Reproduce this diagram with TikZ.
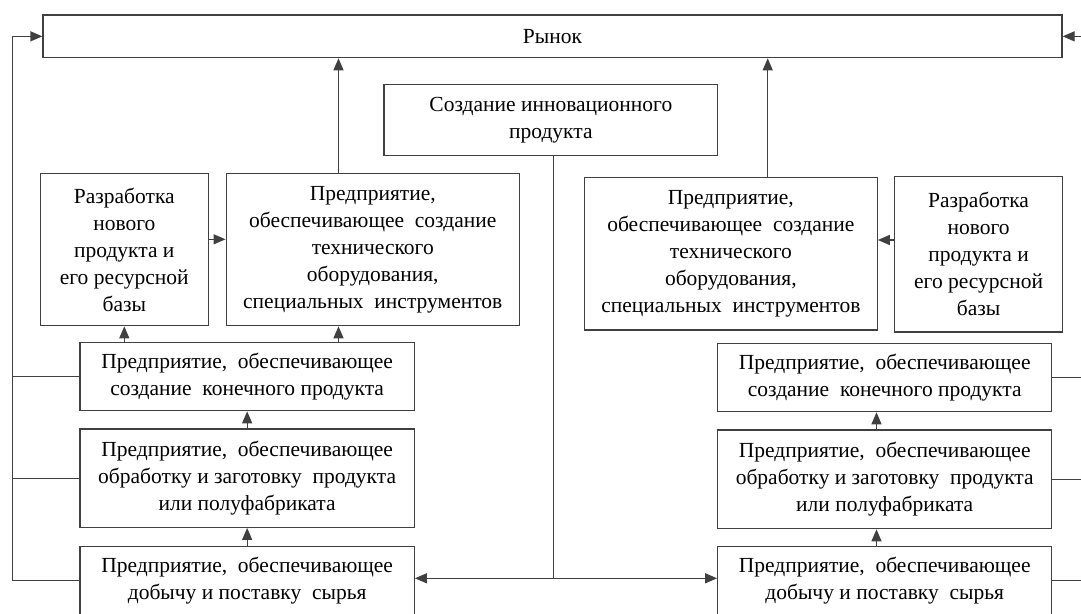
\documentclass[tikz,border=0pt]{standalone}
\usepackage{fontspec}
\setmainfont{Liberation Serif}
\usetikzlibrary{arrows.meta}
\begin{document}
\begin{tikzpicture}[x=1pt,y=-1pt,
  box/.style={draw=black!75, line width=1.25pt, fill=white, inner sep=0pt, align=center,
    font=\fontsize{21.5}{27}\selectfont, text=black},
  arr/.style={draw=black!75, line width=1.25pt, -{Triangle[length=12pt,width=10pt]}},
  ln/.style={draw=black!75, line width=1.25pt}]
\useasboundingbox (0,0) rectangle (1081,613);
% nodes
\node[box, minimum width=1019pt, minimum height=42.7pt] (rynok) at (552.5,36.35) {Рынок};
\node[box, minimum width=333.7pt, minimum height=71pt] (cr) at (550.85,119.8) {Создание инновационного\\продукта};
\node[box, minimum width=168pt, minimum height=152.4pt] (lraz) at (124.3,249.5) {Разработка\\нового\\продукта и\\его ресурсной\\базы};
\node[box, minimum width=293.1pt, minimum height=152.4pt] (ltech) at (372.75,249.5) {Предприятие,\\обеспечивающее\ \ создание\\технического\\оборудования,\\специальных\ \ инструментов};
\node[box, minimum width=292.7pt, minimum height=152.3pt] (rtech) at (730.85,253.85) {Предприятие,\\обеспечивающее\ \ создание\\технического\\оборудования,\\специальных\ \ инструментов};
\node[box, minimum width=168.4pt, minimum height=155.3pt] (rraz) at (978.6,254.35) {Разработка\\нового\\продукта и\\его ресурсной\\базы};
\node[box, minimum width=334.3pt, minimum height=68pt] (lfin) at (247.15,376.7) {Предприятие,\ \ обеспечивающее\\создание\ \ конечного продукта};
\node[box, minimum width=334.3pt, minimum height=98.3pt] (lproc) at (247.15,478.15) {Предприятие,\ \ обеспечивающее\\обработку и заготовку\ \ продукта\\или полуфабриката};
\node[box, minimum width=334.3pt, minimum height=68pt] (lsup) at (247.15,580.7) {Предприятие,\ \ обеспечивающее\\добычу и поставку\ \ сырья};
\node[box, minimum width=334pt, minimum height=68.4pt] (rfin) at (884.7,377.5) {Предприятие,\ \ обеспечивающее\\создание\ \ конечного продукта};
\node[box, minimum width=334pt, minimum height=98.7pt] (rproc) at (884.7,479.35) {Предприятие,\ \ обеспечивающее\\обработку и заготовку\ \ продукта\\или полуфабриката};
\node[box, minimum width=334pt, minimum height=68pt] (rsup) at (884.7,580.7) {Предприятие,\ \ обеспечивающее\\добычу и поставку\ \ сырья};
% helper coordinates
\coordinate (lt) at (12.3,0);
\coordinate (rt) at (1095,0);
\coordinate (a1) at (338.5,0);
\coordinate (a2) at (767.7,0);
\coordinate (a3) at (876.5,0);
\coordinate (h1) at (0,239.3);
\coordinate (h2) at (0,240);
\coordinate (j) at (553.8,578.3);
% left trunk
\draw[arr] (lsup.west) -- (lsup.west -| lt) |- (rynok.west);
\draw[ln] (lfin.west) -- (lfin.west -| lt);
\draw[ln] (lproc.west) -- (lproc.west -| lt);
% right trunk
\draw[arr] (rsup.east) -- (rsup.east -| rt) |- (rynok.east);
\draw[ln] (rfin.east) -- (rfin.east -| rt);
\draw[ln] (rproc.east) -- (rproc.east -| rt);
% up to market
\draw[arr] (ltech.north -| a1) -- (rynok.south -| a1);
\draw[arr] (rtech.north -| a2) -- (rynok.south -| a2);
% development -> tech
\draw[arr] (lraz.east |- h1) -- (ltech.west |- h1);
\draw[arr] (rraz.west |- h2) -- (rtech.east |- h2);
% left chain
\draw[arr] (lfin.north -| lraz) -- (lraz.south);
\draw[arr] (lfin.north -| a1) -- (ltech.south -| a1);
\draw[arr] (lproc.north) -- (lfin.south);
\draw[arr] (lsup.north) -- (lproc.south);
% right chain
\draw[arr] (rproc.north -| a3) -- (rfin.south -| a3);
\draw[arr] (rsup.north -| a3) -- (rproc.south -| a3);
% innovation product to raw material suppliers
\draw[ln] (cr.south -| j) -- (j);
\draw[arr] (j) -- (lsup.east |- j);
\draw[arr] (j) -- (rsup.west |- j);
\end{tikzpicture}
\end{document}
